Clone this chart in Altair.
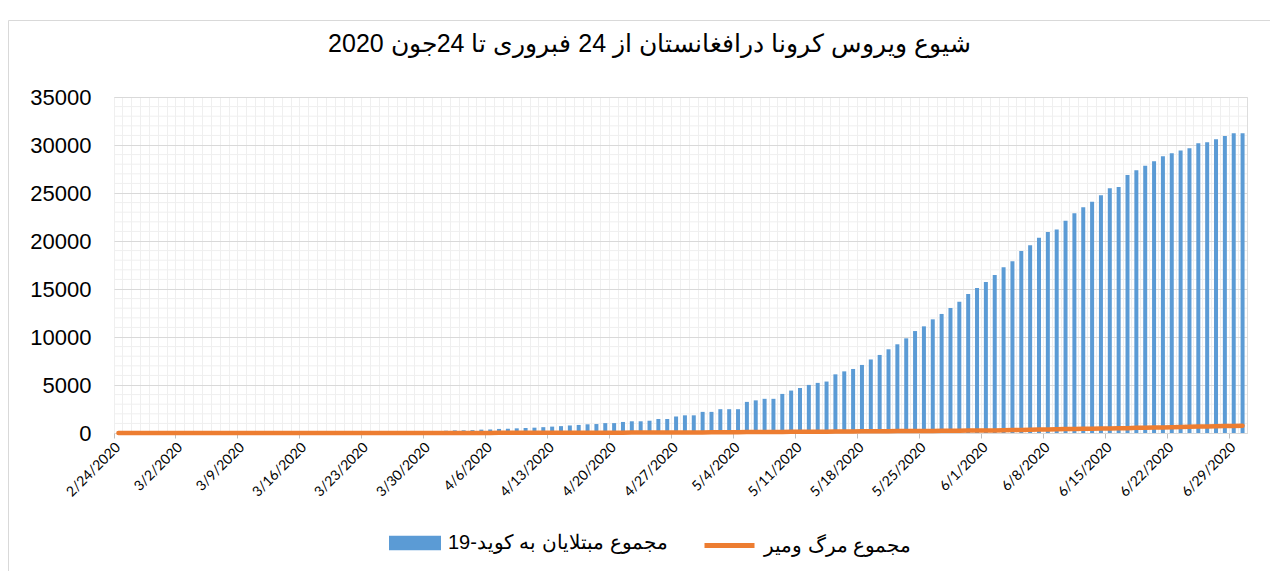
import altair as alt
import pandas as pd

TITLE = "شیوع ویروس کرونا درافغانستان از 24 فبروری تا 24جون 2020"
CASES = "مجموع مبتلایان به کوید-19"
DEATHS = "مجموع مرگ ومیر"

# daily categories 2/24/2020 .. 6/30/2020
dates = [f"{d.month}/{d.day}/{d.year}" for d in pd.date_range("2020-02-24", "2020-06-30", freq="D")]

week_labels = ["2/24/2020", "3/2/2020", "3/9/2020", "3/16/2020", "3/23/2020", "3/30/2020",
               "4/6/2020", "4/13/2020", "4/20/2020", "4/27/2020", "5/4/2020", "5/11/2020",
               "5/18/2020", "5/25/2020", "6/1/2020", "6/8/2020", "6/15/2020", "6/22/2020",
               "6/29/2020"]

y_major = [0, 5000, 10000, 15000, 20000, 25000, 30000, 35000]
y_minor = [v for v in range(1000, 35000, 1000) if v % 5000 != 0]

cases = [1, 1, 1, 1, 1, 1, 1, 1, 1, 1, 1, 1, 1, 4, 4, 5, 7, 7, 7, 11,
         16, 21, 22, 22, 22, 24, 24, 40, 40, 74, 84, 94, 110, 110, 120, 170, 174, 237, 273, 281,
         299, 349, 367, 423, 444, 484, 521, 555, 607, 665, 714, 784, 840, 906, 933, 1030, 1030, 1150, 1220, 1220,
         1280, 1460, 1460, 1720, 1840, 1840, 2200, 2200, 2480, 2480, 2480, 3240, 3400, 3560, 3560, 4070, 4420, 4690, 5010, 5220,
         5360, 6110, 6420, 6670, 7090, 7660, 8130, 8720, 9240, 9860, 10620, 11110, 11840, 12400, 13020, 13680, 14480, 15100, 15730, 16460,
         17260, 17880, 18960, 19550, 20350, 20940, 21210, 22120, 22880, 23510, 24100, 24760, 25490, 25630, 26870, 27360, 27850, 28300, 28820, 29130,
         29440, 29650, 30170, 30280, 30590, 30940, 31220, 31220]

deaths = [0, 0, 0, 0, 0, 0, 0, 0, 0, 0, 0, 0, 0, 0, 0, 0, 0, 0, 0, 0,
          0, 0, 0, 0, 0, 0, 0, 1, 1, 1, 2, 4, 4, 4, 4, 4, 4, 4, 6, 6,
          7, 7, 11, 14, 14, 15, 15, 18, 18, 21, 23, 25, 30, 30, 30, 33, 36, 36, 40, 42,
          43, 47, 50, 57, 58, 60, 64, 68, 72, 85, 90, 95, 104, 106, 109, 115, 120, 122, 127, 132,
          136, 153, 168, 169, 173, 178, 187, 193, 205, 216, 218, 219, 220, 227, 235, 246, 249, 257, 265, 270,
          294, 300, 309, 327, 357, 369, 384, 405, 426, 446, 451, 471, 478, 491, 504, 546, 548, 569, 581, 598,
          618, 639, 675, 683, 703, 721, 733, 746]

BLUE = "#5B9BD5"
ORANGE = "#ED7D31"

bars_df = pd.DataFrame({"date": dates, "value": cases, "series": CASES})
line_df = pd.DataFrame({"date": dates, "value": deaths, "series": DEATHS})
minor_df = pd.DataFrame({"value": y_minor})
frame_df = pd.DataFrame({"k": [0]})

week_js = "[" + ",".join(f"'{w}'" for w in week_labels) + "]"

x_enc = alt.X(
    "date:N",
    scale=alt.Scale(domain=dates, paddingInner=0, paddingOuter=0),
    axis=alt.Axis(
        title=None,
        bandPosition=0,
        grid=True,
        gridColor="#efefef",
        gridWidth=1,
        domain=True,
        domainColor="#d9d9d9",
        ticks=True,
        tickSize=5,
        tickColor="#bfbfbf",
        tickOpacity={"condition": {"test": f"indexof({week_js}, datum.value) >= 0", "value": 1}, "value": 0},
        labelExpr=f"indexof({week_js}, datum.value) >= 0 ? datum.value : ''",
        labelAngle=315,
        labelAlign="right",
        labelBaseline="middle",
        labelPadding=7,
        labelOverlap=False,
        labelFont="Lato",
        labelFontSize=14,
        labelColor="#000000",
    ),
)

y_enc = alt.Y(
    "value:Q",
    scale=alt.Scale(domain=[0, 35000], nice=False),
    axis=alt.Axis(
        title=None,
        values=y_major,
        format="d",
        labelOverlap=False,
        grid=True,
        gridColor="#d9d9d9",
        domain=False,
        ticks=False,
        labelPadding=23,
        labelFont="Liberation Sans",
        labelFontSize=22,
        labelColor="#000000",
    ),
)

legend_common = dict(
    title=None,
    orient="none",
    direction="horizontal",
    padding=0,
    labelOffset=7,
    labelFont="Liberation Sans",
    labelFontSize=20,
    labelColor="#000000",
    labelLimit=400,
)

bar_legend = alt.Legend(
    legendX=275, legendY=420,
    symbolType="M-1,-0.28H1V0.28H-1Z",
    symbolSize=2704,
    symbolStrokeWidth=0,
    **legend_common,
)

line_legend = alt.Legend(
    legendX=588, legendY=421,
    symbolType="stroke",
    symbolSize=2500,
    symbolStrokeWidth=5,
    **legend_common,
)

border = alt.Chart(frame_df).mark_rect(fillOpacity=0, stroke="#d9d9d9", strokeWidth=1).encode(
    x=alt.value(-105.5), x2=alt.value(1300), y=alt.value(-76.5), y2=alt.value(700)
)

minor_grid = alt.Chart(minor_df).mark_rule(color="#efefef", strokeWidth=1).encode(
    y=y_enc,
)

bars = alt.Chart(bars_df).mark_bar(size=4).encode(
    x=x_enc,
    y=y_enc,
    fill=alt.Fill("series:N", scale=alt.Scale(domain=[CASES], range=[BLUE]), legend=bar_legend),
)

line = alt.Chart(line_df).mark_line(strokeWidth=4.5, strokeCap="round", strokeJoin="round").encode(
    x=x_enc,
    y=y_enc,
    stroke=alt.Stroke("series:N", scale=alt.Scale(domain=[DEATHS], range=[ORANGE]), legend=line_legend),
)

chart = alt.layer(border, minor_grid, bars, line).properties(
    width=1133,
    height=336,
    autosize=alt.AutoSizeParams(type="none"),
    padding={"left": 106, "top": 89, "right": 23, "bottom": 138},
    title=alt.TitleParams(
        text=TITLE,
        font="Liberation Sans",
        fontSize=25,
        fontWeight="normal",
        color="#000000",
        anchor="middle",
        frame="group",
        dx=-31,
        offset=-57,
        baseline="alphabetic",
    ),
).configure_view(stroke="#efefef").configure(background="white")

chart.save("out.html", embed_options={"renderer": "svg", "actions": False})
